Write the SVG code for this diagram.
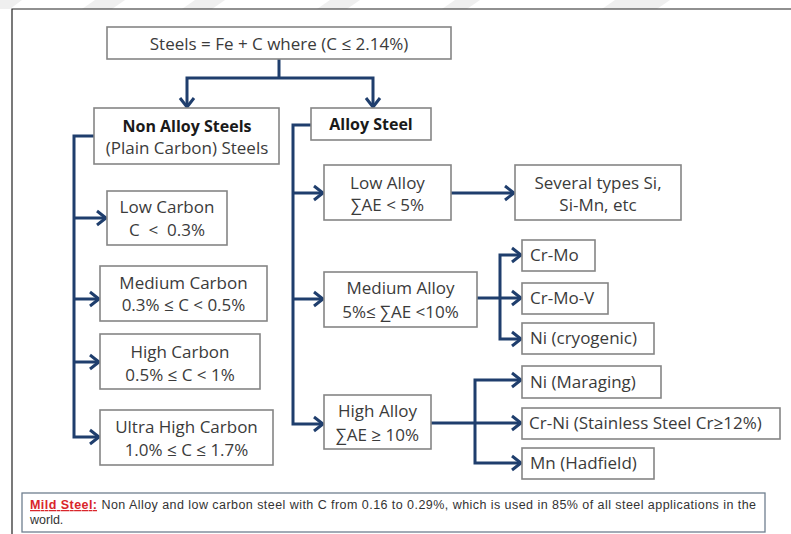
<svg xmlns="http://www.w3.org/2000/svg" width="791" height="534" viewBox="0 0 791 534">
<defs>
<marker id="arr" markerUnits="userSpaceOnUse" markerWidth="14" markerHeight="18" refX="11" refY="9" orient="auto">
<path d="M2,2 L11,9 L2,16" fill="none" stroke="#1f3e6d" stroke-width="3" stroke-linejoin="miter"/>
</marker>
<style>
.box{fill:#fff;stroke:#858585;stroke-width:1.6}
.t{font-family:"Open Sans","Liberation Sans",sans-serif;font-size:17px;fill:#3b3b3b;text-anchor:middle}
.b{font-family:"Open Sans","Liberation Sans",sans-serif;font-size:16px;font-weight:bold;fill:#1a1a1a;text-anchor:middle}
.tl{font-family:"Open Sans","Liberation Sans",sans-serif;font-size:17px;fill:#3b3b3b}
.c{fill:none;stroke:#1f3e6d;stroke-width:3}
.ca{fill:none;stroke:#1f3e6d;stroke-width:3;marker-end:url(#arr)}
.note{font-family:"Liberation Sans",Arial,sans-serif;font-size:12.5px;fill:#333}
</style>
</defs>
<rect x="0" y="0" width="791" height="534" fill="#fff"/>
<g fill="#efefef">
<polygon points="0,0 22,0 10,9 0,9"/>
<polygon points="95,0 125,0 112,9 82,9"/>
<polygon points="195,0 225,0 212,9 182,9"/>
<polygon points="330,0 360,0 347,9 317,9"/>
<polygon points="455,0 480,0 467,9 442,9"/>
<polygon points="615,0 670,0 657,9 602,9"/>
</g>
<path d="M12,534 V9 H791" fill="none" stroke="#222" stroke-width="1.2"/>

<g id="connectors">
<path class="c" d="M279,59 V78"/>
<path class="ca" d="M279,78 H187 V107"/>
<path class="ca" d="M279,78 H373 V107"/>
<path class="ca" d="M94,136 H74 V437 H99"/>
<path class="ca" d="M74,218 H106"/>
<path class="ca" d="M74,299 H99"/>
<path class="ca" d="M74,362 H99"/>
<path class="ca" d="M311,125 H293 V424 H323"/>
<path class="ca" d="M293,193 H323"/>
<path class="ca" d="M293,299 H323"/>
<path class="ca" d="M451,193 H514"/>
<path class="ca" d="M477,298 H521"/>
<path class="ca" d="M500,298 V255 H521"/>
<path class="ca" d="M500,298 V339 H521"/>
<path class="ca" d="M431,423 H521"/>
<path class="ca" d="M475,423 V380 H521"/>
<path class="ca" d="M475,423 V463 H521"/>
</g>

<g id="steels">
<rect class="box" x="107" y="27" width="344" height="32"/>
<text class="t" x="279" y="49.5">Steels = Fe + C where (C ≤ 2.14%)</text>
</g>
<g id="non-alloy">
<rect class="box" x="94" y="108" width="185" height="56"/>
<text class="b" x="187" y="132">Non Alloy Steels</text>
<text class="t" x="187" y="154">(Plain Carbon) Steels</text>
</g>
<g id="alloy">
<rect class="box" x="311" y="108" width="120" height="32"/>
<text class="b" x="371" y="130">Alloy Steel</text>
</g>
<g id="low-carbon">
<rect class="box" x="107" y="191" width="120" height="54"/>
<text class="t" x="167" y="213">Low Carbon</text>
<text class="t" x="167" y="236" xml:space="preserve">C  &lt;  0.3%</text>
</g>
<g id="medium-carbon">
<rect class="box" x="100" y="266" width="167" height="55"/>
<text class="t" x="183.5" y="289">Medium Carbon</text>
<text class="t" x="183.5" y="311">0.3% ≤ C &lt; 0.5%</text>
</g>
<g id="high-carbon">
<rect class="box" x="100" y="334" width="160" height="55"/>
<text class="t" x="180" y="358">High Carbon</text>
<text class="t" x="180" y="381">0.5% ≤ C &lt; 1%</text>
</g>
<g id="ultra-high-carbon">
<rect class="box" x="100" y="410" width="173" height="55"/>
<text class="t" x="186.5" y="433">Ultra High Carbon</text>
<text class="t" x="186.5" y="456">1.0% ≤ C ≤ 1.7%</text>
</g>
<g id="low-alloy">
<rect class="box" x="324" y="165" width="127" height="55"/>
<text class="t" x="387.5" y="189">Low Alloy</text>
<text class="t" x="387.5" y="211">∑AE &lt; 5%</text>
</g>
<g id="several-types">
<rect class="box" x="515" y="165" width="166" height="55"/>
<text class="t" x="598" y="189">Several types Si,</text>
<text class="t" x="598" y="211">Si-Mn, etc</text>
</g>
<g id="medium-alloy">
<rect class="box" x="324" y="272" width="153" height="55"/>
<text class="t" x="400.5" y="294">Medium Alloy</text>
<text class="t" x="400.5" y="318">5%≤ ∑AE &lt;10%</text>
</g>
<g id="cr-mo">
<rect class="box" x="522" y="240" width="73" height="31"/>
<text class="tl" x="530" y="261">Cr-Mo</text>
</g>
<g id="cr-mo-v">
<rect class="box" x="522" y="283" width="86" height="31"/>
<text class="tl" x="530" y="304">Cr-Mo-V</text>
</g>
<g id="ni-cryogenic">
<rect class="box" x="522" y="323" width="132" height="31"/>
<text class="tl" x="530" y="344">Ni (cryogenic)</text>
</g>
<g id="high-alloy">
<rect class="box" x="324" y="395" width="107" height="54"/>
<text class="t" x="377.5" y="417">High Alloy</text>
<text class="t" x="377.5" y="441">∑AE ≥ 10%</text>
</g>
<g id="ni-maraging">
<rect class="box" x="522" y="366" width="139" height="32"/>
<text class="tl" x="530" y="388">Ni (Maraging)</text>
</g>
<g id="cr-ni">
<rect class="box" x="522" y="408" width="258" height="31"/>
<text class="tl" x="529" y="429">Cr-Ni (Stainless Steel Cr≥12%)</text>
</g>
<g id="mn-hadfield">
<rect class="box" x="522" y="448" width="132" height="31"/>
<text class="tl" x="530" y="469">Mn (Hadfield)</text>
</g>
<g id="mild-steel">
<rect x="22" y="493" width="743" height="39" fill="#fff" stroke="#6f7f8f" stroke-width="1.3"/>
<text class="note" x="30" y="509" textLength="726" lengthAdjust="spacing"><tspan fill="#d9262b" font-weight="bold" text-decoration="underline">Mild Steel:</tspan> Non Alloy and low carbon steel with C from 0.16 to 0.29%, which is used in 85% of all steel applications in the</text>
<text class="note" x="30" y="524">world.</text>
</g>
</svg>
